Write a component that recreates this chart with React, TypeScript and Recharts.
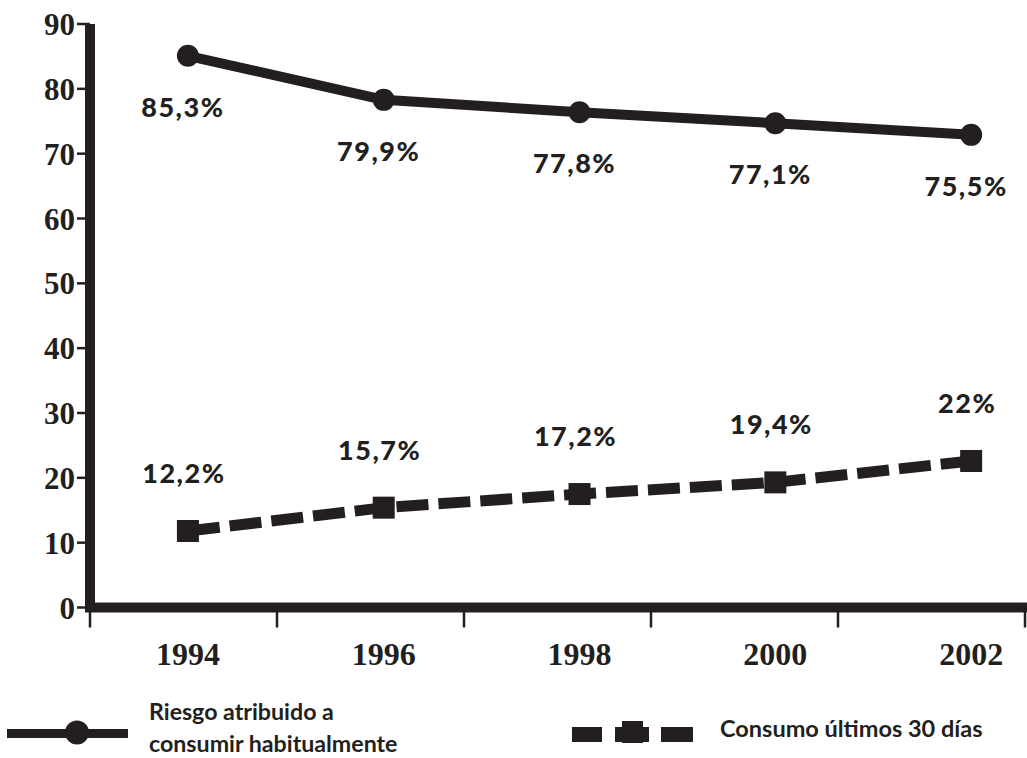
import React from 'react';
import { LineChart, Line, XAxis, YAxis, LabelList } from 'recharts';

const years = [1994, 1996, 1998, 2000, 2002];
const riesgo = [85.1, 78.3, 76.4, 74.7, 72.9];
const consumo = [11.8, 15.4, 17.5, 19.3, 22.6];
const riesgoLabels = ['85,3%', '79,9%', '77,8%', '77,1%', '75,5%'];
const consumoLabels = ['12,2%', '15,7%', '17,2%', '19,4%', '22%'];
const yTicks = [0, 10, 20, 30, 40, 50, 60, 70, 80, 90];
const riesgoLegend = ['Riesgo atribuido a', 'consumir habitualmente'];
const consumoLegend = 'Consumo últimos 30 días';

const data = years.map((year, i) => ({
  year,
  riesgo: riesgo[i],
  consumo: consumo[i],
  riesgoLabel: riesgoLabels[i],
  consumoLabel: consumoLabels[i],
}));

const INK = '#231f20';
const SERIF = '"Liberation Serif", "DejaVu Serif", serif';
const SANS = 'Lato, "Open Sans", sans-serif';

const X_DOMAIN: [number, number] = [1993, 2002.55];
const N_SEGMENTS = 5;
// boundary marks split the x axis into equal segments
const markPositions = Array.from({ length: N_SEGMENTS + 1 }, (_, k) =>
  X_DOMAIN[0] + (k * (X_DOMAIN[1] - X_DOMAIN[0])) / N_SEGMENTS
);
const allTicks = [...years, ...markPositions];

const YearTick = (props: any) => {
  const { x, y, payload } = props;
  const v = payload?.value;
  if (years.includes(v)) {
    return (
      <text
        x={x}
        y={y}
        dy="0.71em"
        textAnchor="middle"
        fontFamily={SERIF}
        fontWeight="bold"
        fontSize={32}
        fill={INK}
      >
        {v}
      </text>
    );
  }
  return <line x1={x} x2={x} y1={y - 32} y2={y - 15} stroke={INK} strokeWidth={2.5} />;
};

const makeLabel = (dx: number, dy: number) => (props: any) => {
  const { x, y, value, index } = props;
  return (
    <text
      key={`l-${index}`}
      x={Number(x) + dx}
      y={Number(y) + dy}
      textAnchor="middle"
      fontFamily={SANS}
      fontWeight="900"
      fontSize={27}
      letterSpacing={1.5}
      fill={INK}
    >
      {value}
    </text>
  );
};

const CircleDot = (props: any) => {
  const { cx, cy, index } = props;
  return <circle key={`c-${index}`} cx={cx} cy={cy} r={11} fill={INK} />;
};

const SquareDot = (props: any) => {
  const { cx, cy, index } = props;
  return <rect key={`s-${index}`} x={cx - 11} y={cy - 11} width={22} height={22} fill={INK} />;
};

export default function App() {
  return (
    <div style={{ position: 'absolute', left: 0, top: 0, width: 1027, height: 758, background: '#fff' }}>
      <LineChart
        width={1027}
        height={680}
        data={data}
        margin={{ top: 24, right: 2, left: 0, bottom: 71.5 }}
      >
        <XAxis
          dataKey="year"
          type="number"
          domain={X_DOMAIN}
          allowDataOverflow
          ticks={allTicks}
          interval={0}
          tickLine={false}
          tickSize={30}
          tickMargin={5}
          height={1}
          axisLine={{ stroke: INK, strokeWidth: 10, strokeLinecap: 'square' }}
          tick={YearTick}
        />
        <YAxis
          type="number"
          domain={[0, 90]}
          allowDataOverflow
          ticks={yTicks}
          interval={0}
          width={90}
          tickSize={13}
          tickMargin={2}
          axisLine={{ stroke: INK, strokeWidth: 10 }}
          tickLine={{ stroke: INK, strokeWidth: 2.5 }}
          tick={{ fontFamily: SERIF, fontWeight: 'bold', fontSize: 31, fill: INK }}
        />
        <Line
          dataKey="riesgo"
          type="linear"
          stroke={INK}
          strokeWidth={10}
          strokeLinejoin="round"
          dot={CircleDot}
          activeDot={false}
          isAnimationActive={false}
        >
          <LabelList dataKey="riesgoLabel" content={makeLabel(-5, 61)} />
        </Line>
        <Line
          dataKey="consumo"
          type="linear"
          stroke={INK}
          strokeWidth={11}
          strokeDasharray="32 10"
          dot={SquareDot}
          activeDot={false}
          isAnimationActive={false}
        >
          <LabelList dataKey="consumoLabel" content={makeLabel(-4, -48)} />
        </Line>
      </LineChart>
      <svg width={1027} height={78} style={{ position: 'absolute', left: 0, top: 680 }}>
        <line x1={7} x2={128} y1={53.5} y2={53.5} stroke={INK} strokeWidth={9} />
        <circle cx={77} cy={52.5} r={12} fill={INK} />
        <text x={149} y={40} fontFamily={SANS} fontWeight="bold" fontSize={23.2} fill={INK}>
          {riesgoLegend[0]}
        </text>
        <text x={149} y={72} fontFamily={SANS} fontWeight="bold" fontSize={23.2} fill={INK}>
          {riesgoLegend[1]}
        </text>
        <rect x={572} y={47} width={30} height={15} fill={INK} />
        <rect x={615} y={47} width={34} height={15} fill={INK} />
        <rect x={622} y={41} width={21} height={22} fill={INK} />
        <rect x={661} y={47} width={32} height={15} fill={INK} />
        <text x={720} y={57} fontFamily={SANS} fontWeight="bold" fontSize={23.5} fill={INK}>
          {consumoLegend}
        </text>
      </svg>
    </div>
  );
}
